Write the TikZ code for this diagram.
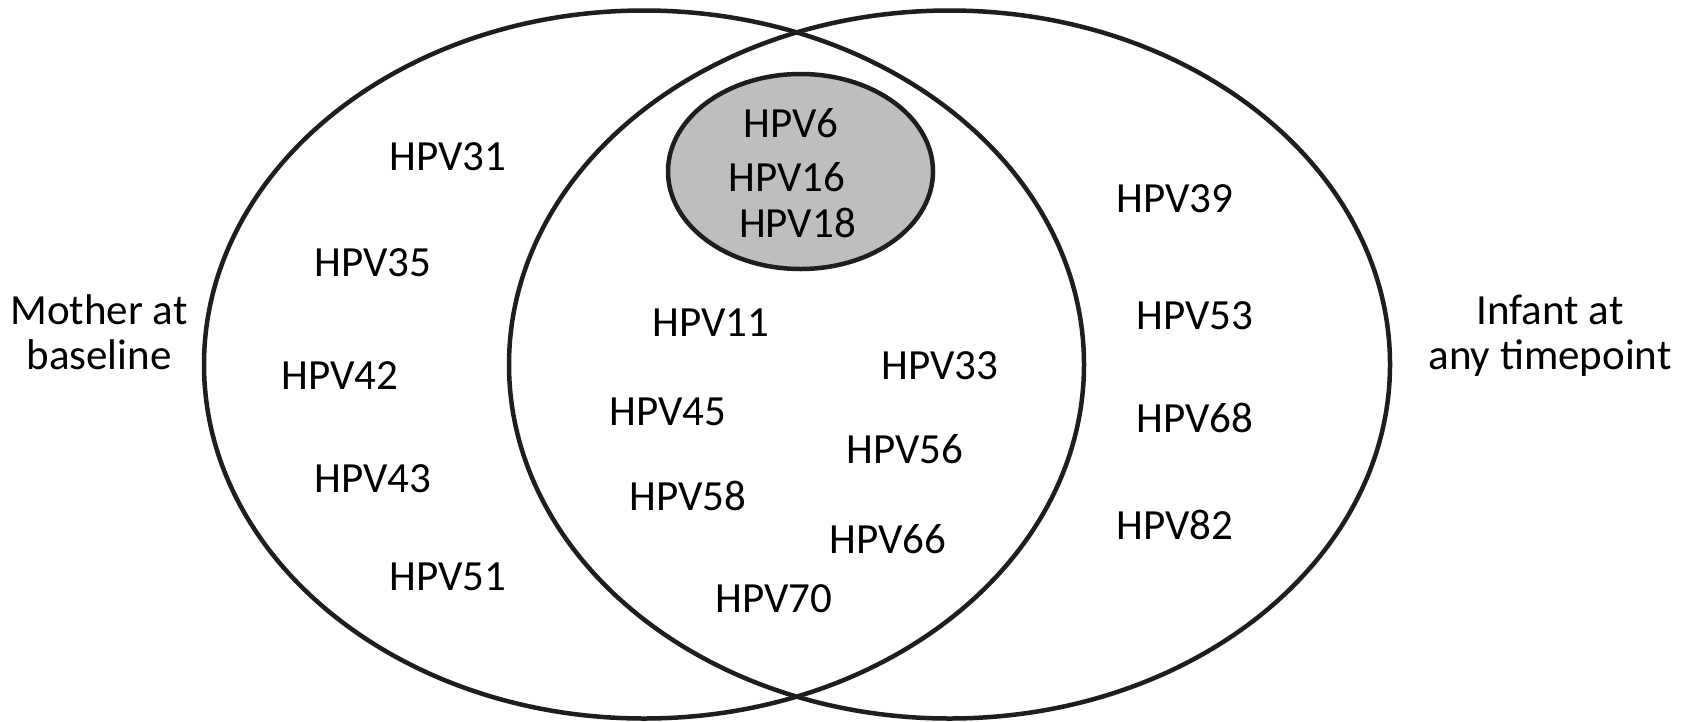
\documentclass[tikz,border=0pt]{standalone}
\usepackage{fontspec}
\setmainfont{Carlito}
\usetikzlibrary{shapes.geometric}
\definecolor{linecol}{RGB}{30,30,30}
\definecolor{grayfill}{RGB}{190,190,190}
\tikzset{
  venn/.style={ellipse, draw=linecol, line width=4.5pt, inner sep=0pt},
  lbl/.style={inner sep=0pt, font=\fontsize{43pt}{45pt}\selectfont, text=black},
  side/.style={lbl, align=center, anchor=base}
}
\begin{document}
\begin{tikzpicture}[x=1pt, y=-1pt]
\useasboundingbox (0,0) rectangle (1685,721);
\fill[white] (0,0) rectangle (1685,721);
\node[venn, minimum width=880pt, minimum height=708pt] (mother) at (644,364.5) {};
\node[venn, minimum width=881pt, minimum height=708pt] (infant) at (949.5,364.5) {};
\node[venn, fill=grayfill, minimum width=265pt, minimum height=195pt] (core) at (800.5,171.5) {};
% gray region
\node[lbl] (h6) at (791,123) {HPV6};
\node[lbl] (h16) at (787,177) {HPV16};
\node[lbl] (h18) at (797.5,223) {HPV18};
% mother only
\node[lbl] (h31) at (448,157) {HPV31};
\node[lbl] (h35) at (373,263) {HPV35};
\node[lbl] (h42) at (340,376) {HPV42};
\node[lbl] (h43) at (373,479) {HPV43};
\node[lbl] (h51) at (448,577) {HPV51};
% overlap
\node[lbl] (h11) at (711,323) {HPV11};
\node[lbl] (h45) at (668,412) {HPV45};
\node[lbl] (h58) at (688,496) {HPV58};
\node[lbl] (h70) at (774,599) {HPV70};
\node[lbl] (h33) at (940,366) {HPV33};
\node[lbl] (h56) at (905,449) {HPV56};
\node[lbl] (h66) at (888,539) {HPV66};
% infant only
\node[lbl] (h39) at (1175,199) {HPV39};
\node[lbl] (h53) at (1195,316) {HPV53};
\node[lbl] (h68) at (1195,418) {HPV68};
\node[lbl] (h82) at (1175,525) {HPV82};
% side labels
\node[side] (mlabel) at (99,369) {Mother at\\baseline};
\node[side] (ilabel) at (1550,369) {Infant at\\any timepoint};
\end{tikzpicture}
\end{document}
